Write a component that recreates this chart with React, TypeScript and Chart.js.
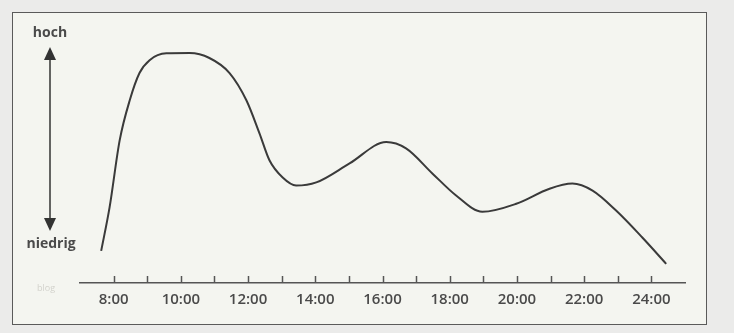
import React, { useEffect, useRef } from "react";
import { Chart, registerables } from "chart.js";

Chart.register(...registerables);

// Time of day (hours) and relative level (0 = niedrig, 100 = hoch)
const hours = [7.63, 7.88, 8.18, 8.48, 8.77, 9.07, 9.57, 10.26, 10.85, 11.45, 11.95, 12.34, 12.64, 13.03, 13.43, 14.03, 15.02, 16.11, 16.7, 17.49, 18.19, 18.97, 19.98, 20.97, 21.65, 22.25, 22.95, 23.73, 24.44];
const levels = [13.2, 31.1, 58.7, 75.2, 86.4, 91.7, 94.5, 94.6, 92.6, 86.4, 75.2, 61.6, 50.4, 43.4, 40.1, 41.4, 49.2, 58.0, 55.4, 45.0, 36.0, 29.3, 32.6, 38.8, 40.9, 38.0, 29.8, 18.7, 7.9];
const tickHours = [8, 9, 10, 11, 12, 13, 14, 15, 16, 17, 18, 19, 20, 21, 22, 23, 24];
const labeledHours = [8, 10, 12, 14, 16, 18, 20, 22, 24];
const axisMin = 7;
const axisMax = 25;
const highLabel = "hoch";
const lowLabel = "niedrig";
const watermark = "blog";

const INK = "#3a3a3a";
const TEXT = "#4a4a4a";

const decorPlugin = {
  id: "decor",
  afterDraw(chart: any) {
    const ctx = chart.ctx;
    const x = chart.scales.x;
    const area = chart.chartArea;
    ctx.save();
    // upward tick marks on the time axis
    ctx.strokeStyle = "#555";
    ctx.lineWidth = 1.5;
    tickHours.forEach((h) => {
      const px = Math.round(x.getPixelForValue(h)) + 0.5;
      ctx.beginPath();
      ctx.moveTo(px, area.bottom);
      ctx.lineTo(px, area.bottom - 7);
      ctx.stroke();
    });
    // vertical double arrow
    const ax = 50;
    ctx.strokeStyle = "#333";
    ctx.fillStyle = "#333";
    ctx.lineWidth = 1.5;
    ctx.beginPath();
    ctx.moveTo(ax, 58);
    ctx.lineTo(ax, 221);
    ctx.stroke();
    ctx.beginPath();
    ctx.moveTo(ax, 47);
    ctx.lineTo(ax - 6, 60);
    ctx.lineTo(ax + 6, 60);
    ctx.closePath();
    ctx.fill();
    ctx.beginPath();
    ctx.moveTo(ax, 231);
    ctx.lineTo(ax - 6, 218);
    ctx.lineTo(ax + 6, 218);
    ctx.closePath();
    ctx.fill();
    // labels
    ctx.fillStyle = TEXT;
    ctx.font = "bold 14px 'Open Sans'";
    ctx.textAlign = "center";
    ctx.textBaseline = "middle";
    ctx.fillText(highLabel, 50, 33);
    ctx.fillText(lowLabel, 51, 244);
    ctx.fillStyle = "#d2d2cc";
    ctx.font = "9px 'Open Sans'";
    ctx.fillText(watermark, 46, 288);
    ctx.restore();
  },
};

export default function App() {
  const ref = useRef<HTMLCanvasElement | null>(null);

  useEffect(() => {
    if (!ref.current) return;
    const chart = new Chart(ref.current, {
      type: "line",
      data: {
        datasets: [
          {
            data: hours.map((h, i) => ({ x: h, y: levels[i] })),
            borderColor: INK,
            borderWidth: 2,
            pointRadius: 0,
            fill: false,
            cubicInterpolationMode: "monotone",
          },
        ],
      },
      options: {
        animation: false,
        responsive: true,
        maintainAspectRatio: false,
        layout: { padding: { left: 80, right: 49, top: 40, bottom: 24 } },
        plugins: { legend: { display: false }, tooltip: { enabled: false } },
        scales: {
          x: {
            type: "linear",
            min: axisMin,
            max: axisMax,
            afterBuildTicks: (scale: any) => {
              scale.ticks = tickHours.map((v) => ({ value: v }));
            },
            grid: { display: false },
            border: { display: true, color: "#555", width: 1.5 },
            ticks: {
              autoSkip: false,
              maxRotation: 0,
              padding: 0,
              color: TEXT,
              font: { family: "'Open Sans'", size: 15, weight: "600" },
              callback: (v: any) => (labeledHours.includes(Number(v)) ? `${v}:00` : ""),
            },
          },
          y: { display: false, min: 0, max: 100 },
        },
      },
      plugins: [decorPlugin],
    });
    return () => chart.destroy();
  }, []);

  return (
    <div style={{ position: "fixed", left: 0, top: 0, width: 734, height: 333, background: "#ebebea", overflow: "hidden" }}>
      <div
        style={{
          position: "absolute",
          left: 12,
          top: 12,
          width: 695,
          height: 313,
          boxSizing: "border-box",
          border: "1.5px solid #5a5a5a",
          background: "#f4f5f0",
        }}
      />
      <div style={{ position: "absolute", left: 0, top: 0, width: 734, height: 333 }}>
        <canvas ref={ref} />
      </div>
    </div>
  );
}
